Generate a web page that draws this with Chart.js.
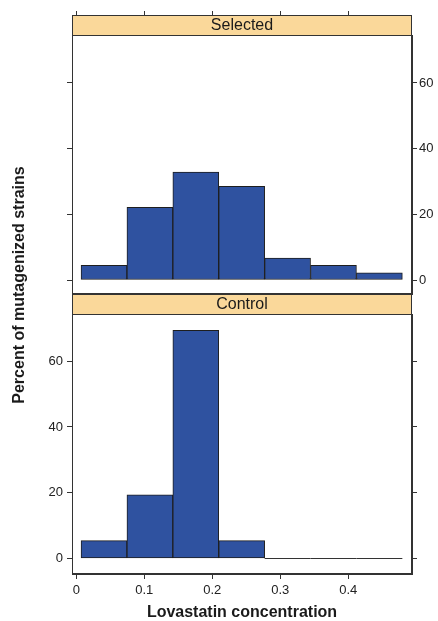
<!DOCTYPE html>
<html>
<head>
<meta charset="utf-8">
<script src="https://cdn.jsdelivr.net/npm/chart.js@4.4.0/dist/chart.umd.min.js"></script>
<style>
body{margin:0;background:#fff;}
#wrap{position:relative;width:438px;height:621px;}
canvas{position:absolute;left:0;}
#ytitle{position:absolute;left:-181px;top:276px;width:400px;height:18px;line-height:18px;text-align:center;
  font:bold 16px "Liberation Sans",Arial,sans-serif;color:#1a1a1a;transform:rotate(-90deg);}
</style>
</head>
<body>
<div id="wrap">
<canvas id="top_panel" width="438" height="310" style="top:0"></canvas>
<canvas id="bottom_panel" width="438" height="331" style="top:290px"></canvas>
<div id="ytitle">Percent of mutagenized strains</div>
</div>
<script>
// histogram bins (lovastatin concentration) and percent per bin
const bin_edges = [0.007, 0.0745, 0.142, 0.2095, 0.277, 0.3445, 0.412, 0.4795];
const selected_pct = [4.5, 22.1, 32.9, 28.5, 6.7, 4.5, 2.2];
const control_pct = [5.4, 19.3, 69.4, 5.4, 0, 0, 0];
const x_ticks = [0, 0.1, 0.2, 0.3, 0.4];
const y_ticks = [0, 20, 40, 60];
const panel_names = ['Selected', 'Control'];
const x_title = 'Lovastatin concentration';

const X_MIN = -0.0063, X_MAX = 0.4937;
const font_family = '"Liberation Sans", Arial, sans-serif';
const tick_font = {family: font_family, size: 13};

function bins(values){
    return values.map((v, i) => ({x: (bin_edges[i] + bin_edges[i+1]) / 2, y: v}));
}

// strip + frame + flat line for empty bins
const panelFrame = {
    id: 'panelFrame',
    afterDraw(chart, args, opts){
        const ctx = chart.ctx;
        const a = chart.chartArea;
        ctx.save();
        ctx.strokeStyle = '#333';
        ctx.lineWidth = 1;
        const meta = chart.getDatasetMeta(0);
        const y0 = Math.round(chart.scales.y.getPixelForValue(0)) + 0.5;
        meta.data.forEach((bar, i) => {
            if (chart.data.datasets[0].data[i].y === 0){
                ctx.beginPath();
                ctx.moveTo(bar.x - bar.width / 2, y0);
                ctx.lineTo(bar.x + bar.width / 2, y0);
                ctx.stroke();
            }
        });
        ctx.fillStyle = '#fad89a';
        ctx.fillRect(a.left, a.top - 20, a.right - a.left, 20);
        ctx.strokeRect(a.left + 0.5, a.top - 19.5, a.right - a.left - 1, 20);
        ctx.strokeRect(a.left + 0.5, a.top - 19.5, a.right - a.left - 1, a.bottom - a.top + 19);
        ctx.fillStyle = '#1a1a1a';
        ctx.font = '16px ' + font_family;
        ctx.textAlign = 'center';
        ctx.textBaseline = 'middle';
        ctx.fillText(opts.label, (a.left + a.right) / 2, a.top - 9);
        ctx.restore();
    }
};

function y_axis(position, show_labels, y_min, y_max, width){
    return {
        type: 'linear', position: position, min: y_min, max: y_max,
        afterBuildTicks: s => { s.ticks = y_ticks.map(v => ({value: v})); },
        afterFit: s => { s.width = width; },
        grid: {drawOnChartArea: false, tickLength: 5, color: '#333'},
        border: {color: '#333'},
        ticks: {display: show_labels, padding: position == 'left' ? 4 : 2, color: '#222', font: tick_font}
    };
}

function x_axis(position, show_labels){
    let ax = {
        type: 'linear', position: position, min: X_MIN, max: X_MAX, offset: false,
        afterBuildTicks: s => { s.ticks = x_ticks.map(v => ({value: v})); },
        grid: {offset: false, drawOnChartArea: false, tickLength: 5, color: '#333'},
        border: {display: show_labels, color: '#333'},
        ticks: {display: show_labels, padding: 4, color: '#222', font: tick_font,
                maxRotation: 0, autoSkip: false, callback: v => String(v)}
    };
    if (show_labels){
        ax.title = {display: true, text: x_title, color: '#1a1a1a', padding: {top: 0, bottom: 0},
                    font: {family: font_family, size: 16, weight: 'bold', lineHeight: 1}};
        ax.afterFit = s => { s.height = 47; };
    } else {
        // long tick marks, lower part hidden under the strip
        ax.grid.tickLength = 24;
        ax.afterFit = s => { s.height = 24; };
    }
    return ax;
}

function bar_set(values){
    return {
        data: bins(values),
        backgroundColor: '#2f52a0',
        borderColor: '#1e1e1e',
        borderWidth: 1,
        borderSkipped: false,
        barPercentage: 1,
        categoryPercentage: 1
    };
}

new Chart(document.querySelector('#top_panel'), {
    type: 'bar',
    data: {datasets: [bar_set(selected_pct)]},
    options: {
        responsive: false, animation: false,
        layout: {padding: {top: 11, bottom: 16, left: 0, right: 0}},
        scales: {
            x: x_axis('top', false),
            y: y_axis('right', true, -4.26, 74.6, 26),
            yL: y_axis('left', false, -4.26, 74.6, 72)
        },
        plugins: {legend: {display: false}, tooltip: {enabled: false}, panelFrame: {label: panel_names[0]}}
    },
    plugins: [panelFrame]
});

new Chart(document.querySelector('#bottom_panel'), {
    type: 'bar',
    data: {datasets: [bar_set(control_pct)]},
    options: {
        responsive: false, animation: false,
        layout: {padding: {top: 24, bottom: 0, left: 0, right: 0}},
        scales: {
            x: x_axis('bottom', true),
            y: y_axis('left', true, -4.78, 74.4, 72),
            yR: y_axis('right', false, -4.78, 74.4, 26)
        },
        plugins: {legend: {display: false}, tooltip: {enabled: false}, panelFrame: {label: panel_names[1]}}
    },
    plugins: [panelFrame]
});
</script>
</body>
</html>
